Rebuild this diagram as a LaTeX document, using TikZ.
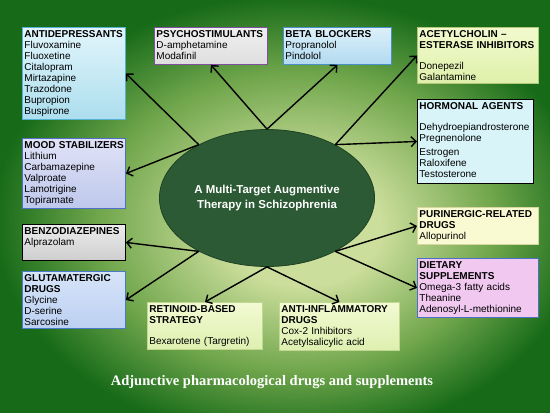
\documentclass[tikz,border=0pt]{standalone}
\usepackage{fontspec}
\setmainfont{Liberation Serif}
\setsansfont{Liberation Sans}
\usetikzlibrary{shapes.geometric,arrows.meta}

\definecolor{bgLight}{RGB}{204,222,156}
\definecolor{bgMid}{RGB}{112,166,76}
\definecolor{bgDark}{RGB}{22,106,24}
\definecolor{hubGreen}{RGB}{44,90,52}
\definecolor{hubLine}{RGB}{30,66,36}
\pgfdeclareradialshading{bgglow}{\pgfpoint{3bp}{-3bp}}{color(0bp)=(bgLight); color(7bp)=(bgLight); color(18bp)=(bgMid); color(27bp)=(bgDark); color(50bp)=(bgDark)}
\newcommand{\nohyph}{\hyphenpenalty=10000\relax\exhyphenpenalty=10000\relax}

\tikzset{
  drugbox/.style={draw, line width=0.9pt, anchor=north west, inner xsep=2pt, inner ysep=3pt,
    align=left, font=\sffamily\fontsize{10}{11}\selectfont\nohyph},
  link/.style={line width=1.4pt, -{Straight Barb[length=5pt,width=10pt]}}
}

\begin{document}
\begin{tikzpicture}[x=1pt,y=-1pt]
  \useasboundingbox (0,0) rectangle (550,413);
  \shade[shading=bgglow] (0,0) rectangle (550,413);

  % Hub
  \node[ellipse, fill=hubGreen, draw=hubLine, line width=0.8pt, minimum width=172pt, minimum height=137pt,
    text=white, align=center, font=\sffamily\bfseries\fontsize{11.5}{15}\selectfont] (hub) at (267,198)
    {A Multi-Target Augmentive\\Therapy in Schizophrenia};

  % Left column
  \node[drugbox, text width=99pt, top color={rgb,255:red,226;green,245;blue,251}, bottom color={rgb,255:red,172;green,222;blue,238},
    draw={rgb,255:red,86;green,178;blue,212}] (anti) at (22,27)
    {\textbf{ANTIDEPRESSANTS}\\Fluvoxamine\\Fluoxetine\\Citalopram\\Mirtazapine\\Trazodone\\Bupropion\\Buspirone\rule[-2pt]{0pt}{0pt}};
  \node[drugbox, text width=99pt, top color={rgb,255:red,224;green,226;blue,246}, bottom color={rgb,255:red,190;green,200;blue,236},
    draw={rgb,255:red,80;green,112;blue,200}] (mood) at (22,138)
    {\textbf{MOOD~STABILIZERS}\\Lithium\\Carbamazepine\\Valproate\\Lamotrigine\\Topiramate};
  \node[drugbox, text width=99pt, top color={rgb,255:red,236;green,236;blue,236}, bottom color={rgb,255:red,206;green,206;blue,206},
    draw=black] (benzo) at (22,224)
    {\textbf{BENZODIAZEPINES}\\Alprazolam\rule[-12pt]{0pt}{0pt}};
  \node[drugbox, text width=99pt, top color={rgb,255:red,214;green,228;blue,248}, bottom color={rgb,255:red,188;green,208;blue,242},
    draw={rgb,255:red,74;green,122;blue,200}] (glut) at (22,271)
    {\textbf{GLUTAMATERGIC}\\\textbf{DRUGS}\\Glycine\\D-serine\\Sarcosine};

  % Top row
  \node[drugbox, text width=109pt, top color={rgb,255:red,240;green,240;blue,240}, bottom color={rgb,255:red,222;green,222;blue,222},
    draw={rgb,255:red,128;green,80;blue,160}] (psycho) at (154,27)
    {\textbf{PSYCHOSTIMULANTS}\\D-amphetamine\\Modafinil\rule[-2pt]{0pt}{0pt}};
  \node[drugbox, text width=104pt, top color={rgb,255:red,220;green,240;blue,250}, bottom color={rgb,255:red,178;green,218;blue,240},
    draw={rgb,255:red,74;green,144;blue,200}] (beta) at (283,27)
    {\textbf{BETA BLOCKERS}\\Propranolol\\Pindolol\rule[-2pt]{0pt}{0pt}};

  % Right column
  \node[drugbox, text width=117pt, top color={rgb,255:red,242;green,250;blue,206}, bottom color={rgb,255:red,222;green,240;blue,170},
    draw={rgb,255:red,176;green,200;blue,120}] (ache) at (417,27)
    {\textbf{ACETYLCHOLIN –}\\\textbf{ESTERASE INHIBITORS}\\[10pt]Donepezil\\Galantamine};
  \node[drugbox, text width=112pt, fill={rgb,255:red,216;green,244;blue,248}, draw=black] (horm) at (417,99)
    {\textbf{HORMONAL AGENTS}\\[10pt]Dehydroepiandrosterone\\Pregnenolone\\[3pt]Estrogen\\Raloxifene\\Testosterone\rule[-3pt]{0pt}{0pt}};
  \node[drugbox, text width=117pt, fill={rgb,255:red,250;green,250;blue,210}, draw={rgb,255:red,214;green,214;blue,160}] (purin) at (417,207)
    {\textbf{PURINERGIC-RELATED}\\\textbf{DRUGS}\\Allopurinol};
  \node[drugbox, text width=117pt, fill={rgb,255:red,240;green,200;blue,240}, draw={rgb,255:red,74;green,112;blue,200}] (diet) at (417,258)
    {\textbf{DIETARY}\\\textbf{SUPPLEMENTS}\\Omega-3 fatty acids\\Theanine\\Adenosyl-L-methionine};

  % Bottom row
  \node[drugbox, text width=111pt, top color={rgb,255:red,242;green,250;blue,210}, bottom color={rgb,255:red,222;green,240;blue,176},
    draw={rgb,255:red,192;green,216;blue,144}] (retin) at (147,302)
    {\textbf{RETINOID-BASED}\\\textbf{STRATEGY}\\[10pt]Bexarotene (Targretin)};
  \node[drugbox, text width=116pt, top color={rgb,255:red,242;green,250;blue,210}, bottom color={rgb,255:red,222;green,240;blue,176},
    draw={rgb,255:red,192;green,216;blue,144}] (antiinf) at (279,302)
    {\textbf{ANTI-INFLAMMATORY}\\\textbf{DRUGS}\\Cox-2 Inhibitors\\Acetylsalicylic acid};

  % Arrows out of the hub
  \coordinate (hubNW) at (hub.142);
  \coordinate (hubN) at (hub.90);
  \coordinate (hubNE) at (hub.38);
  \coordinate (hubSW) at (hub.218);
  \coordinate (hubS) at (hub.270);
  \coordinate (hubSE) at (hub.322);
  \draw[link] (hubNW) -- (anti.east);
  \draw[link] (hubNW) -- (mood.east);
  \draw[link] (hubN) -- (psycho.south);
  \draw[link] (hubN) -- (beta.south);
  \draw[link] (hubNE) -- (ache.west);
  \draw[link] (hubNE) -- (horm.west);
  \draw[link] (hubSW) -- (benzo.east);
  \draw[link] (hubSW) -- (glut.east);
  \draw[link] (hubS) -- (retin.north);
  \draw[link] (hubS) -- (antiinf.north);
  \draw[link] (hubSE) -- (purin.west);
  \draw[link] (hubSE) -- (diet.west);

  \node[text=white, font=\bfseries\fontsize{14.5}{17}\selectfont] (footer) at (272,382)
    {Adjunctive pharmacological drugs and supplements};
\end{tikzpicture}
\end{document}
